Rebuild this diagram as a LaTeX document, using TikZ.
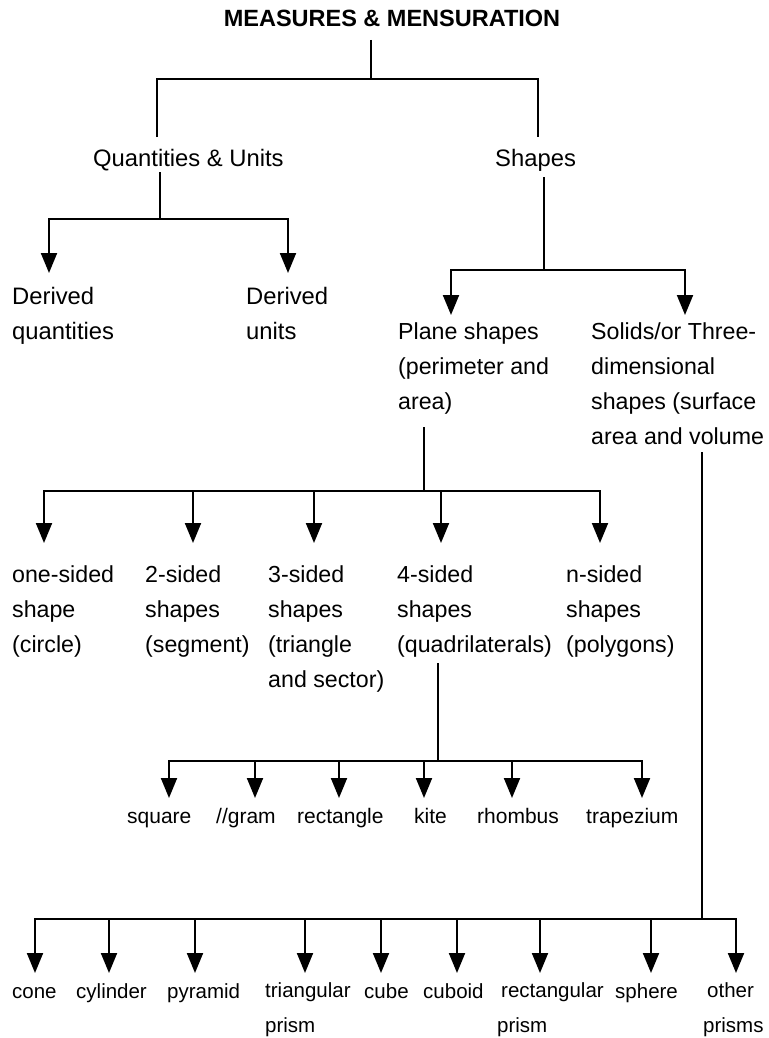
\documentclass[tikz,border=0pt]{standalone}
\usepackage{fontspec}
\setmainfont{Liberation Sans}
\usetikzlibrary{arrows.meta,calc}

\begin{document}
\begin{tikzpicture}[x=1pt,y=-1pt,
  % labels are anchored at the baseline of their last line
  lbl/.style={anchor=base west,inner sep=0pt,align=left},
  fbig/.style={font=\fontsize{23.8}{35}\selectfont},
  fmid/.style={font=\fontsize{23.2}{35}\selectfont},
  fsmall/.style={font=\fontsize{21}{35}\selectfont},
  ftiny/.style={font=\fontsize{20.5}{35}\selectfont},
  ttl/.style={anchor=base,inner sep=0pt,font=\fontsize{23.5}{28}\selectfont\bfseries},
  link/.style={line width=2pt,line join=miter},
  arr/.style={link,-{Triangle[length=20pt,width=16pt]}},
  arr2/.style={link,{Triangle[length=20pt,width=16pt]}-{Triangle[length=20pt,width=16pt]}}]
\useasboundingbox (0,0) rectangle (768,1038);

% ---------- labels ----------
\node[ttl] (title) at (392,27) {MEASURES \& MENSURATION};

\node[lbl,fbig] (qu)     at (93,166)  {Quantities \& Units};
\node[lbl,fbig] (shapes) at (495,166) {Shapes};

\node[lbl,fbig] (d1) at (12,339)  {Derived\\quantities};
\node[lbl,fbig] (d2) at (246,339) {Derived\\units};

\node[lbl,fmid] (plane)  at (398,409) {Plane shapes\\(perimeter and\\area)};
\node[lbl,fmid] (solids) at (591,444) {Solids/or Three-\\dimensional\\shapes (surface\\area and volume};

\node[lbl,fmid] (one)    at (12,652)  {one-sided\\shape\\(circle)};
\node[lbl,fmid] (two)    at (145,652) {2-sided\\shapes\\(segment)};
\node[lbl,fmid] (three)  at (268,687) {3-sided\\shapes\\(triangle\\and sector)};
\node[lbl,fmid] (four)   at (397,652) {4-sided\\shapes\\(quadrilaterals)};
\node[lbl,fmid] (nsided) at (566,652) {n-sided\\shapes\\(polygons)};

\node[lbl,fsmall] (square)  at (127,823) {square};
\node[lbl,fsmall] (gram)    at (216,823) {//gram};
\node[lbl,fsmall] (rect)    at (297,823) {rectangle};
\node[lbl,fsmall] (kite)    at (414,823) {kite};
\node[lbl,fsmall] (rhombus) at (477,823) {rhombus};
\node[lbl,fsmall] (trap)    at (586,823) {trapezium};

\node[lbl,ftiny] (cone)   at (12,998)   {cone};
\node[lbl,ftiny] (cyl)    at (76,998)   {cylinder};
\node[lbl,ftiny] (pyr)    at (167,998)  {pyramid};
\node[lbl,ftiny] (tri)    at (265,1032) {triangular\\prism};
\node[lbl,ftiny] (cube)   at (364,998)  {cube};
\node[lbl,ftiny] (cuboid) at (423,998)  {cuboid};
\node[lbl,ftiny] (rprism) at (501,1032) {rectangular\\\hspace*{-4pt}prism};
\node[lbl,ftiny] (sphere) at (615,998)  {sphere};
\node[lbl,ftiny] (other)  at (707,1032) {other\\\hspace*{-4pt}prisms};

% ---------- bus junctions ----------
\coordinate (tj) at (371,79);
\coordinate (ta) at (157,79);  \coordinate (tb) at (538,79);

\coordinate (qj) at (160,219);
\coordinate (qa) at (49,219);  \coordinate (qb) at (288,219);

\coordinate (sj) at (544,270);
\coordinate (sa) at (451,270); \coordinate (sb) at (685,270);

\coordinate (pj) at (424,491);
\coordinate (pa) at (44,491);  \coordinate (pb) at (193,491);
\coordinate (pc) at (314,491); \coordinate (pd) at (441,491);
\coordinate (pe) at (600,491);

\coordinate (fj) at (438,761);
\coordinate (fa) at (169,761); \coordinate (fb) at (255,761);
\coordinate (fc) at (339,761); \coordinate (fd) at (424,761);
\coordinate (fe) at (512,761); \coordinate (ff) at (642,761);

\coordinate (vj) at (702,919);
\coordinate (va) at (35,919);  \coordinate (vb) at (109,919);
\coordinate (vc) at (195,919); \coordinate (vd) at (305,919);
\coordinate (ve) at (381,919); \coordinate (vf) at (457,919);
\coordinate (vg) at (540,919); \coordinate (vh) at (651,919);
\coordinate (vi) at (736,919);

% ---------- connectors ----------
% title -> quantities & units, shapes
\draw[link] ($(title.base -| tj)+(0,13)$) -- (tj);
\draw[link] ($(qu.base -| ta)+(0,-29)$) -- (ta) -- (tb) -- ($(shapes.base -| tb)+(0,-29)$);

% quantities & units -> derived quantities, derived units
\draw[link] ($(qu.base -| qj)+(0,6)$) -- (qj);
\draw[arr2] ($(d1.base -| qa)+(0,-66)$) -- (qa) -- (qb) -- ($(d2.base -| qb)+(0,-66)$);

% shapes -> plane shapes, solids
\draw[link] ($(shapes.base -| sj)+(0,11)$) -- (sj);
\draw[arr2] ($(plane.base -| sa)+(0,-94)$) -- (sa) -- (sb) -- ($(solids.base -| sb)+(0,-129)$);

% plane shapes -> families by number of sides
\draw[link] ($(plane.base -| pj)+(0,18)$) -- (pj);
\draw[arr2] ($(one.base -| pa)+(0,-109)$) -- (pa) -- (pe) -- ($(nsided.base -| pe)+(0,-109)$);
\draw[arr] (pb) -- ($(two.base -| pb)+(0,-109)$);
\draw[arr] (pc) -- ($(three.base -| pc)+(0,-144)$);
\draw[arr] (pd) -- ($(four.base -| pd)+(0,-109)$);

% 4-sided shapes -> quadrilaterals
\draw[link] ($(four.base -| fj)+(0,11)$) -- (fj);
\draw[arr2] ($(square.base -| fa)+(0,-25)$) -- (fa) -- (ff) -- ($(trap.base -| ff)+(0,-25)$);
\draw[arr] (fb) -- ($(gram.base -| fb)+(0,-25)$);
\draw[arr] (fc) -- ($(rect.base -| fc)+(0,-25)$);
\draw[arr] (fd) -- ($(kite.base -| fd)+(0,-25)$);
\draw[arr] (fe) -- ($(rhombus.base -| fe)+(0,-25)$);

% solids -> individual solids
\draw[link] ($(solids.base -| vj)+(0,8)$) -- (vj);
\draw[arr2] ($(cone.base -| va)+(0,-25)$) -- (va) -- (vi) -- ($(other.base -| vi)+(0,-59)$);
\draw[arr] (vb) -- ($(cyl.base -| vb)+(0,-25)$);
\draw[arr] (vc) -- ($(pyr.base -| vc)+(0,-25)$);
\draw[arr] (vd) -- ($(tri.base -| vd)+(0,-59)$);
\draw[arr] (ve) -- ($(cube.base -| ve)+(0,-25)$);
\draw[arr] (vf) -- ($(cuboid.base -| vf)+(0,-25)$);
\draw[arr] (vg) -- ($(rprism.base -| vg)+(0,-59)$);
\draw[arr] (vh) -- ($(sphere.base -| vh)+(0,-25)$);
\end{tikzpicture}
\end{document}
